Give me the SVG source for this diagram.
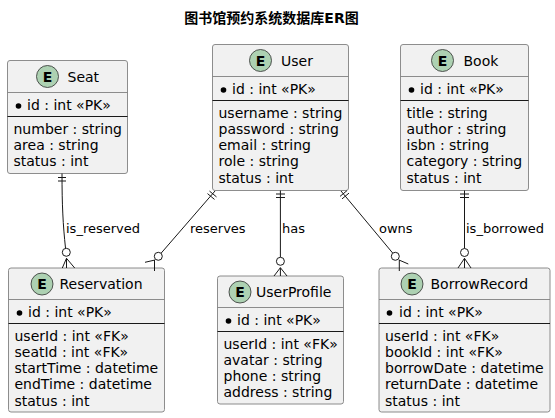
<svg xmlns="http://www.w3.org/2000/svg" width="555" height="418" viewBox="0 0 555 418">
<style>
text{font-family:"DejaVu Sans","Noto Sans CJK SC",sans-serif;font-size:14px;fill:#000}
.title{font-size:14px;font-weight:bold;font-family:"DejaVu Sans","Noto Sans CJK SC",sans-serif}
.lbl{font-size:13px}
.box{fill:#F1F1F1;stroke:#808080;stroke-width:.9}
.hl{stroke:#808080;stroke-width:.9;fill:none}
.sl{stroke:#000;stroke-width:.9;fill:none}
.circ{fill:#ADD1B2;stroke:#2E2E2E;stroke-width:.8}
.e{font-weight:bold;font-size:14px}
.dot{fill:#000}
#connectors path{fill:none;stroke:#181818;stroke-width:1}
#connectors circle{fill:#fff;stroke:#181818;stroke-width:1}
</style>
<text class="title" x="271.500" y="23" text-anchor="middle">图书馆预约系统数据库ER图</text>
<g id="Seat"><rect class="box" x="7.500" y="60.500" width="120" height="113" rx="2.500"/><path class="hl" d="M7.500 92.500H127.500"/><path class="sl" d="M7.500 116.500H127.500"/><circle class="circ" cx="47.500" cy="76.500" r="11"/><text class="e" x="47.500" y="81.500" text-anchor="middle">E</text><text x="67.500" y="81.500">Seat</text><circle class="dot" cx="18.500" cy="106" r="2.800"/><text x="27" y="110">id : int «PK»</text><text x="13.500" y="134">number : string</text><text x="13.500" y="150">area : string</text><text x="13.500" y="166">status : int</text></g>
<g id="User"><rect class="box" x="212.500" y="44.500" width="136" height="146" rx="2.500"/><path class="hl" d="M212.500 76.500H348.500"/><path class="sl" d="M212.500 100.500H348.500"/><circle class="circ" cx="260.500" cy="60.500" r="11"/><text class="e" x="260.500" y="65.500" text-anchor="middle">E</text><text x="281" y="65.500">User</text><circle class="dot" cx="223.500" cy="90" r="2.800"/><text x="232" y="94">id : int «PK»</text><text x="218.500" y="118">username : string</text><text x="218.500" y="134">password : string</text><text x="218.500" y="150">email : string</text><text x="218.500" y="166">role : string</text><text x="218.500" y="183">status : int</text></g>
<g id="Book"><rect class="box" x="400.500" y="44.500" width="128" height="146" rx="2.500"/><path class="hl" d="M400.500 76.500H528.500"/><path class="sl" d="M400.500 100.500H528.500"/><circle class="circ" cx="442.500" cy="60.500" r="11"/><text class="e" x="442.500" y="65.500" text-anchor="middle">E</text><text x="463.500" y="65.500">Book</text><circle class="dot" cx="411.500" cy="90" r="2.800"/><text x="420" y="94">id : int «PK»</text><text x="406.500" y="118">title : string</text><text x="406.500" y="134">author : string</text><text x="406.500" y="150">isbn : string</text><text x="406.500" y="166">category : string</text><text x="406.500" y="183">status : int</text></g>
<g id="Reservation"><rect class="box" x="8.500" y="268" width="156" height="144" rx="2.500"/><path class="hl" d="M8.500 299.500H164.500"/><path class="sl" d="M8.500 323.500H164.500"/><circle class="circ" cx="42" cy="284" r="11"/><text class="e" x="42" y="289" text-anchor="middle">E</text><text x="59.500" y="289">Reservation</text><circle class="dot" cx="19.500" cy="313" r="2.800"/><text x="28" y="317">id : int «PK»</text><text x="14.500" y="341">userId : int «FK»</text><text x="14.500" y="357">seatId : int «FK»</text><text x="14.500" y="373">startTime : datetime</text><text x="14.500" y="389">endTime : datetime</text><text x="14.500" y="406">status : int</text></g>
<g id="UserProfile"><rect class="box" x="217.500" y="276" width="126" height="128" rx="2.500"/><path class="hl" d="M217.500 307.500H343.500"/><path class="sl" d="M217.500 331.500H343.500"/><circle class="circ" cx="240" cy="292" r="11"/><text class="e" x="240" y="297" text-anchor="middle">E</text><text x="256" y="297">UserProfile</text><circle class="dot" cx="228.500" cy="321" r="2.800"/><text x="237" y="325">id : int «PK»</text><text x="223.500" y="349">userId : int «FK»</text><text x="223.500" y="365">avatar : string</text><text x="223.500" y="381">phone : string</text><text x="223.500" y="397">address : string</text></g>
<g id="BorrowRecord"><rect class="box" x="379" y="268" width="171" height="144" rx="2.500"/><path class="hl" d="M379 299.500H550"/><path class="sl" d="M379 323.500H550"/><circle class="circ" cx="412" cy="284" r="11"/><text class="e" x="412" y="289" text-anchor="middle">E</text><text x="430.500" y="289">BorrowRecord</text><circle class="dot" cx="389.500" cy="313" r="2.800"/><text x="399" y="317">id : int «PK»</text><text x="385" y="341">userId : int «FK»</text><text x="385" y="357">bookId : int «FK»</text><text x="385" y="373">borrowDate : datetime</text><text x="385" y="389">returnDate : datetime</text><text x="385" y="406">status : int</text></g>
<g id="connectors">
<g id="c1"><path d="M62 173.500C62 205 63 225 65.500 248"/><path d="M58 177.500H66M58 181H66"/><circle cx="66.300" cy="252.300" r="4"/><path d="M62.300 268L66.500 258.300L74.700 268M66.500 258.300V268"/></g>
<g id="c2"><path d="M215 191L161 253.300"/><path d="M209.500 191.100L216.500 196.900M207.500 193.600L214.500 199.400"/><circle cx="158.300" cy="256.300" r="4"/><path d="M145 262.300L155 260M154.500 260V271"/></g>
<g id="c3"><path d="M280.400 190.500V257.300"/><path d="M276 194H285M276 197.500H285"/><circle cx="280.400" cy="261.300" r="4"/><path d="M274 276L280.400 267.700L287 276M280.400 267.700V276"/></g>
<g id="c4"><path d="M341 191L392.800 253.200"/><path d="M340 196.400L347 190.600M342 198.900L349 193.100"/><circle cx="395.300" cy="256.300" r="4"/><path d="M399 260L408.300 264M399.300 260V271"/></g>
<g id="c5"><path d="M464.500 190.500V248.500"/><path d="M460 194H469M460 197.500H469"/><circle cx="464.500" cy="252.500" r="4"/><path d="M458 268L464.500 258.300L471 268M464.500 258.300V268"/></g>
<text class="lbl" x="66" y="233">is_reserved</text>
<text class="lbl" x="190" y="233">reserves</text>
<text class="lbl" x="282" y="233">has</text>
<text class="lbl" x="379" y="233">owns</text>
<text class="lbl" x="466" y="233">is_borrowed</text>
</g>
</svg>
